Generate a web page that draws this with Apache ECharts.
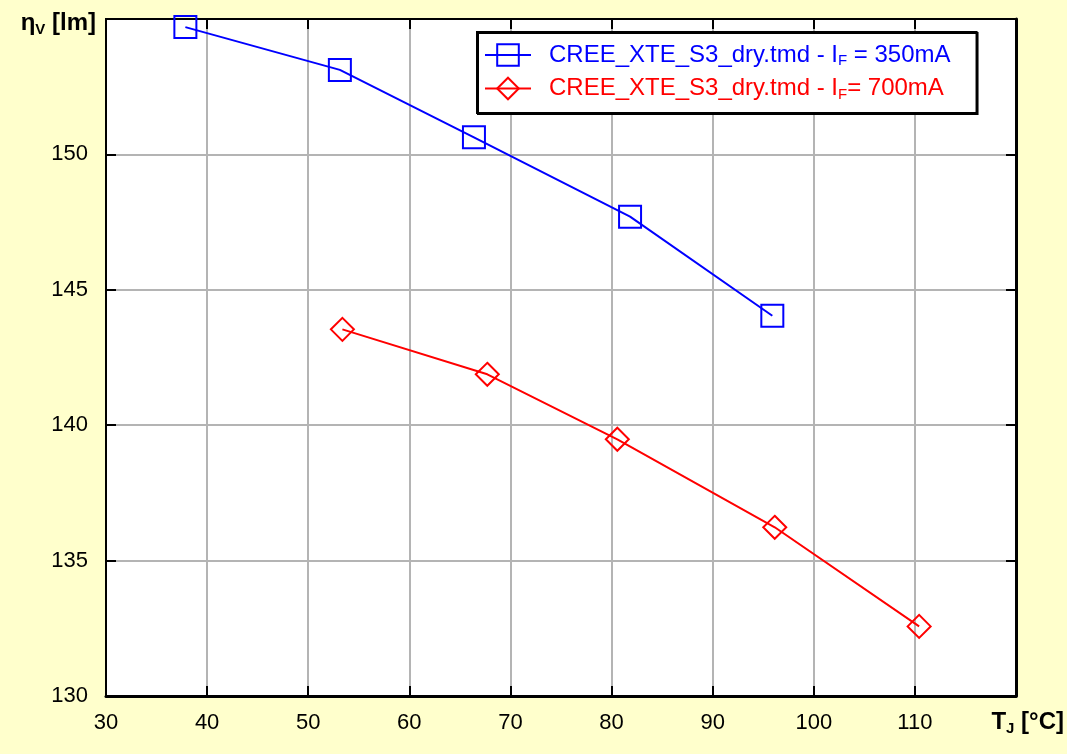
<!DOCTYPE html>
<html>
<head>
<meta charset="utf-8">
<script src="https://cdn.jsdelivr.net/npm/echarts@6/dist/echarts.min.js"></script>
<style>
html,body{margin:0;padding:0;background:#FFFFCC;}
#chart{width:1067px;height:754px;}
</style>
</head>
<body>
<div id="chart"></div>
<script>
// Data
const seriesNames = ['CREE_XTE_S3_dry.tmd - IF = 350mA', 'CREE_XTE_S3_dry.tmd - IF= 700mA'];
const tj350 = [37.85, 53.13, 66.39, 81.83, 95.90];
const flux350 = [154.70, 153.12, 150.63, 147.70, 144.04];
const tj700 = [53.38, 67.71, 80.57, 96.14, 110.42];
const flux700 = [143.54, 141.88, 139.48, 136.23, 132.57];
const xTicks = [30, 40, 50, 60, 70, 80, 90, 100, 110, 120];
const yTicks = [130, 135, 140, 145, 150, 155];

const FONT = 'Liberation Sans';
const chart = echarts.init(document.getElementById('chart'), null, {renderer: 'canvas'});

const pairs = (xs, ys) => xs.map((x, i) => [x, ys[i]]);

const gridCfg = {left: 106, right: 49, top: 19, bottom: 58};

const baseX = {
  type: 'value', min: xTicks[0], max: xTicks[xTicks.length - 1], interval: 10,
};
const baseY = {
  type: 'value', min: yTicks[0], max: yTicks[yTicks.length - 1], interval: 5,
};

const legendRich = {
  a: {fontFamily: FONT, fontSize: 24},
  s: {fontFamily: FONT, fontSize: 15, padding: [12, 0, 0, 0]}
};

const option = {
  backgroundColor: '#FFFFCC',
  animation: false,
  grid: Object.assign({show: true, backgroundColor: '#FFFFFF', borderColor: '#000000', borderWidth: 2}, gridCfg),
  legend: {
    orient: 'vertical', left: 477, top: 32,
    backgroundColor: '#FFFFFF', borderColor: '#000000', borderWidth: 2,
    shadowColor: '#000000', shadowOffsetX: 1, shadowOffsetY: 1, shadowBlur: 0,
    padding: [11, 26, 11, 7],
    itemWidth: 46, itemHeight: 27, itemGap: 8,
    selectedMode: false,
    data: [
      {name: seriesNames[0], textStyle: {color: '#0000FF'}},
      {name: seriesNames[1], textStyle: {color: '#FF0000'}}
    ],
    textStyle: {fontFamily: FONT, fontSize: 24, padding: [0, 0, 0, 13], rich: legendRich},
    formatter: function (name) {
      const parts = name.split(' IF');
      return '{a|' + parts[0] + ' I}{s|F}{a|' + parts[1] + '}';
    }
  },
  xAxis: [
    Object.assign({}, baseX, {
      position: 'bottom',
      name: '{b|T}{sb|J}{b| [°C]}',
      nameLocation: 'end', nameGap: 48,
      nameTextStyle: {
        align: 'right', verticalAlign: 'top', padding: [13, 0, 0, 0],
        rich: {
          b: {fontFamily: FONT, fontSize: 24, fontWeight: 'bold', color: '#000'},
          sb: {fontFamily: FONT, fontSize: 15, fontWeight: 'bold', color: '#000', padding: [12, 0, 0, 0]}
        }
      },
      axisLine: {show: true, lineStyle: {color: '#000', width: 3}},
      axisTick: {show: true, inside: true, length: 10, lineStyle: {color: '#000', width: 2}},
      axisLabel: {show: true, margin: 16, color: '#000', fontFamily: FONT, fontSize: 22, showMaxLabel: false},
      splitLine: {show: true, lineStyle: {color: '#B4B4B4', width: 2}}
    }),
    Object.assign({}, baseX, {
      position: 'top',
      axisLine: {show: true, lineStyle: {color: '#000', width: 2}},
      axisTick: {show: true, inside: true, length: 10, lineStyle: {color: '#000', width: 2}},
      axisLabel: {show: false},
      splitLine: {show: false}
    })
  ],
  yAxis: [
    Object.assign({}, baseY, {
      position: 'left',
      name: '{b|η}{sb|V}{b| [lm]}',
      nameLocation: 'end', nameGap: 0,
      nameTextStyle: {
        align: 'right', verticalAlign: 'top', padding: [-9, 10, 0, 0],
        rich: {
          b: {fontFamily: FONT, fontSize: 24, fontWeight: 'bold', color: '#000'},
          sb: {fontFamily: FONT, fontSize: 15, fontWeight: 'bold', color: '#000', padding: [12, 0, 0, 0]}
        }
      },
      axisLine: {show: true, lineStyle: {color: '#000', width: 2}},
      axisTick: {show: true, inside: true, length: 10, lineStyle: {color: '#000', width: 2}},
      axisLabel: {show: true, margin: 18, color: '#000', fontFamily: FONT, fontSize: 22, showMaxLabel: false},
      splitLine: {show: true, lineStyle: {color: '#B4B4B4', width: 2}}
    }),
    Object.assign({}, baseY, {
      position: 'right',
      axisLine: {show: true, lineStyle: {color: '#000', width: 3}},
      axisTick: {show: true, inside: true, length: 10, lineStyle: {color: '#000', width: 2}},
      axisLabel: {show: false},
      splitLine: {show: false}
    })
  ],
  series: [
    {
      name: seriesNames[0], type: 'line',
      data: pairs(tj350, flux350),
      symbol: 'rect', symbolSize: 22,
      lineStyle: {color: '#0000FF', width: 2},
      itemStyle: {color: '#0000FF', borderColor: '#0000FF', borderWidth: 2},
      showAllSymbol: true, z: 3,
      emphasis: {disabled: true}
    },
    {
      name: seriesNames[1], type: 'line',
      data: pairs(tj700, flux700),
      symbol: 'diamond', symbolSize: 23,
      lineStyle: {color: '#FF0000', width: 2},
      itemStyle: {color: '#FF0000', borderColor: '#FF0000', borderWidth: 2},
      showAllSymbol: true, z: 3,
      emphasis: {disabled: true}
    }
  ]
};
// hollow markers
option.series.forEach(s => { s.itemStyle.color = '#FFFFFF00'; });
chart.setOption(option);
</script>
</body>
</html>
